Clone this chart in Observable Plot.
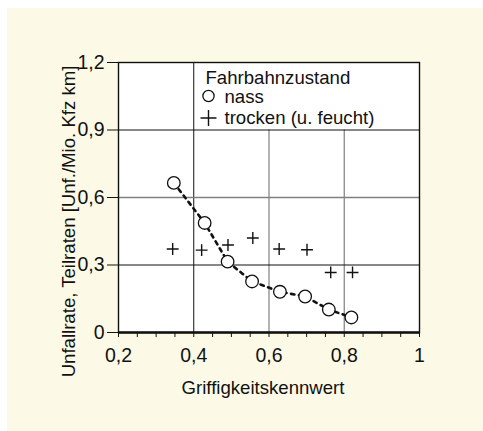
<!DOCTYPE html>
<html>
<head>
<meta charset="utf-8">
<script src="https://cdn.jsdelivr.net/npm/d3@7"></script>
<script src="https://cdn.jsdelivr.net/npm/@observablehq/plot@0.6"></script>
<style>
  html, body { margin: 0; padding: 0; background: #ffffff; }
  #wrap { position: relative; width: 483px; height: 431px; overflow: hidden; }
  #bg { position: absolute; left: 7px; top: 8px; right: 0; bottom: 0; background: #fcfae6; }
  #chart { position: absolute; left: 0; top: 0; }
</style>
</head>
<body>
<div id="wrap"><div id="bg"></div><div id="chart"></div></div>
<script>
// Data
const nassX    = [0.347, 0.429, 0.490, 0.555, 0.629, 0.696, 0.759, 0.819];
const nassY    = [0.665, 0.487, 0.315, 0.227, 0.181, 0.160, 0.102, 0.067];
const trockenX = [0.344, 0.421, 0.491, 0.557, 0.627, 0.701, 0.764, 0.822];
const trockenY = [0.371, 0.366, 0.389, 0.420, 0.371, 0.368, 0.267, 0.267];

const xTicks = [0.2, 0.4, 0.6, 0.8, 1];
const xTickLabels = ["0,2", "0,4", "0,6", "0,8", "1"];
const xMinorTicks = [0.25, 0.3, 0.35, 0.45, 0.5, 0.55, 0.65, 0.7, 0.75, 0.85, 0.9, 0.95];
const yTicks = [0, 0.3, 0.6, 0.9, 1.2];
const yTickLabels = ["0", "0,3", "0,6", "0,9", "1,2"];

const xLabel = "Griffigkeitskennwert";
const yLabel = "Unfallrate, Teilraten [Unf./Mio. Kfz km]";
const legendTitle = "Fahrbahnzustand";
const seriesNames = ["nass", "trocken (u. feucht)"];

// grid lines
const gridXFull = [0.4];
const gridXPartial = [0.6, 0.8];   // stop at the legend box (y = 0.9)
const gridXPartialTop = 0.9;
const gridYBlack = [0.3, 0.9];
const gridYGray = [0.6];

const nass = nassX.map((x, i) => ({x, y: nassY[i]}));
const trocken = trockenX.map((x, i) => ({x, y: trockenY[i]}));

const FS = 18.6;
const TFS = 19.5;
const font = "'Liberation Sans', Arial, Helvetica, sans-serif";
const txt = {fontSize: FS, fill: "#111", lineAnchor: "middle"};

const chart = Plot.plot({
  width: 483,
  height: 431,
  marginLeft: 118,
  marginRight: 64,
  marginTop: 62,
  marginBottom: 99,
  style: {background: "transparent", fontFamily: font, fontSize: FS + "px", color: "#111"},
  x: {domain: [0.2, 1]},
  y: {domain: [0, 1.2]},
  marks: [
    Plot.frame({fill: "white", stroke: null}),
    // grid
    Plot.ruleX(gridXFull, {stroke: "#111", strokeWidth: 1}),
    Plot.ruleX(gridXPartial, {y1: 0, y2: gridXPartialTop, stroke: "#808080", strokeWidth: 1.2}),
    Plot.ruleY(gridYBlack, {stroke: "#111", strokeWidth: 1}),
    Plot.ruleY(gridYGray, {stroke: "#808080", strokeWidth: 1.4}),
    // axes
    Plot.axisY(yTicks, {
      tickSize: 11, tickPadding: 3, fontSize: TFS, stroke: "#111",
      tickFormat: d => yTickLabels[yTicks.indexOf(d)], label: null
    }),
    Plot.axisX(xMinorTicks, {tickSize: 5, tickFormat: () => "", label: null, stroke: "#111"}),
    Plot.axisX(xTicks, {
      tickSize: 5, tickPadding: 11, fontSize: TFS, stroke: "#111",
      tickFormat: d => xTickLabels[xTicks.indexOf(d)], label: null
    }),
    Plot.frame({stroke: "#111", strokeWidth: 1.4}),
    Plot.ruleY([0], {stroke: "#111", strokeWidth: 2.5}),
    // data
    Plot.line(nass, {x: "x", y: "y", stroke: "#111", strokeWidth: 2.6, strokeDasharray: "3.5,4.5"}),
    Plot.dot(trocken, {x: "x", y: "y", symbol: "plus", r: 3.9, stroke: "#111", strokeWidth: 1.4}),
    Plot.dot(nass, {x: "x", y: "y", symbol: "circle", r: 6.3, fill: "white", stroke: "#111", strokeWidth: 1.3}),
    // legend
    Plot.text([legendTitle], {...txt, frameAnchor: "top-left", dx: 87, dy: 16, textAnchor: "start"}),
    Plot.dot([seriesNames[0]], {frameAnchor: "top-left", dx: 90, dy: 33.5, symbol: "circle", r: 5.6, fill: "white", stroke: "#111", strokeWidth: 1.3}),
    Plot.text([seriesNames[0]], {...txt, frameAnchor: "top-left", dx: 106, dy: 34.5, textAnchor: "start"}),
    Plot.dot([seriesNames[1]], {frameAnchor: "top-left", dx: 90, dy: 55.5, symbol: "plus", r: 5.2, stroke: "#111", strokeWidth: 1.4}),
    Plot.text([seriesNames[1]], {...txt, frameAnchor: "top-left", dx: 106, dy: 55.5, textAnchor: "start"}),
    // axis titles
    Plot.text([xLabel], {...txt, frameAnchor: "bottom", textAnchor: "middle", dx: -6, dy: 55.5}),
    Plot.text([yLabel], {...txt, frameAnchor: "left", textAnchor: "middle", rotate: -90, dx: -49.5, dy: 24})
  ]
});
document.getElementById("chart").appendChild(chart);
</script>
</body>
</html>
